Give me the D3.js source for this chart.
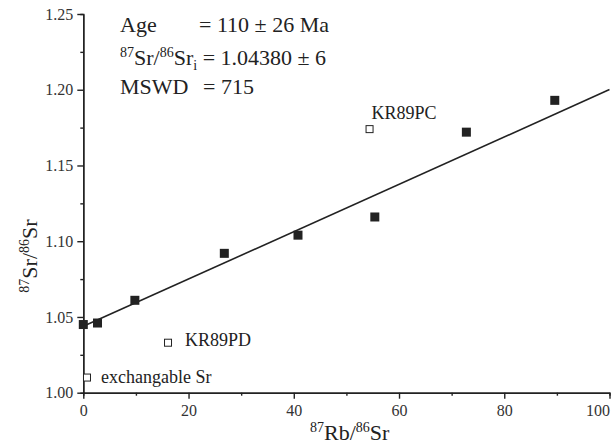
<!DOCTYPE html>
<html>
<head>
<meta charset="utf-8">
<script src="https://cdn.jsdelivr.net/npm/d3@7"></script>
<style>
  body { margin: 0; background: #fff; }
  svg { display: block; }
  .axis path, .axis line { stroke: #222; stroke-width: 1.4; }
</style>
</head>
<body>
<div id="chart"></div>
<script>
// filled squares: samples on the isochron
const rbSr = [0, 2.7, 9.8, 26.8, 40.8, 55.4, 72.8, 89.6];
const srSr = [1.045, 1.046, 1.061, 1.092, 1.104, 1.116, 1.172, 1.193];

// open squares: excluded samples
const openLabels = ["exchangable Sr", "KR89PD", "KR89PC"];
const openRbSr = [0.7, 16.1, 54.4];
const openSrSr = [1.010, 1.033, 1.174];

// isochron fit
const fitIntercept = 1.0438;
const fitSlope = 0.001563;
const fitRange = [0, 100];

const xTicks = [0, 20, 40, 60, 80, 100];
const xMinor = [10, 30, 50, 70, 90];
const yTicks = [1.00, 1.05, 1.10, 1.15, 1.20, 1.25];
const yMinor = [1.025, 1.075, 1.125, 1.175, 1.225];

const width = 611, height = 446;
const ink = "#222";
const serif = "'Liberation Serif', 'Times New Roman', serif";

const x = d3.scaleLinear().domain([0, 100]).range([83.3, 609.5]);
const y = d3.scaleLinear().domain([1.0, 1.25]).range([392.7, 14]);

const svg = d3.select("#chart").append("svg")
  .attr("width", width)
  .attr("height", height)
  .attr("font-family", serif);

// axes
svg.append("g")
  .attr("class", "axis")
  .attr("transform", `translate(0,${y(1.0)})`)
  .call(d3.axisBottom(x).tickValues(xMinor).tickSize(3).tickFormat(""));

const xAxis = svg.append("g")
  .attr("class", "axis")
  .attr("transform", `translate(0,${y(1.0)})`)
  .call(d3.axisBottom(x).tickValues(xTicks).tickSize(6).tickSizeOuter(0).tickPadding(6).tickFormat(d3.format("d")));
xAxis.selectAll(".tick text")
  .attr("text-anchor", (d) => (d === 100 ? "end" : "middle"));

svg.append("g")
  .attr("class", "axis")
  .attr("transform", `translate(${x(0)},0)`)
  .call(d3.axisLeft(y).tickValues(yMinor).tickSize(3).tickFormat(""));

svg.append("g")
  .attr("class", "axis")
  .attr("transform", `translate(${x(0)},0)`)
  .call(d3.axisLeft(y).tickValues(yTicks).tickSize(6).tickSizeOuter(0).tickPadding(4).tickFormat(d3.format(".2f")));

svg.selectAll(".axis")
  .attr("font-family", serif)
  .attr("font-size", 16);
svg.selectAll(".axis text").attr("fill", "#333");
svg.selectAll(".axis .domain").attr("stroke", ink);

// isochron line
svg.append("line")
  .attr("x1", x(fitRange[0]))
  .attr("y1", y(fitIntercept + fitSlope * fitRange[0]))
  .attr("x2", x(fitRange[1]))
  .attr("y2", y(fitIntercept + fitSlope * fitRange[1]))
  .attr("stroke", ink)
  .attr("stroke-width", 1.6);

// filled squares
const sq = 9;
svg.append("g")
  .selectAll("rect")
  .data(rbSr).enter()
  .append("rect")
    .attr("x", (d) => x(d) - sq / 2)
    .attr("y", (d, i) => y(srSr[i]) - sq / 2)
    .attr("width", sq)
    .attr("height", sq)
    .attr("fill", ink);

// open squares + labels
const osq = 7;
const labelOffset = [[14, 5], [17, 3], [2, -10]];
const open = svg.append("g")
  .selectAll("g")
  .data(openLabels).enter()
  .append("g")
    .attr("transform", (d, i) => `translate(${x(openRbSr[i])},${y(openSrSr[i])})`);

open.append("rect")
  .attr("x", -osq / 2)
  .attr("y", -osq / 2)
  .attr("width", osq)
  .attr("height", osq)
  .attr("fill", "#fff")
  .attr("stroke", ink)
  .attr("stroke-width", 1);

open.append("text")
  .attr("x", (d, i) => labelOffset[i][0])
  .attr("y", (d, i) => labelOffset[i][1])
  .attr("font-size", 18)
  .attr("fill", ink)
  .text((d) => d);

// result block
const info = svg.append("g").attr("fill", ink).attr("font-size", 22);

const l1 = info.append("text").attr("y", 32);
l1.append("tspan").attr("x", 120).text("Age");
l1.append("tspan").attr("x", 199).text("=  110 ± 26  Ma");

const l2 = info.append("text").attr("y", 65);
l2.append("tspan").attr("x", 120).attr("dy", -8).attr("font-size", 14).text("87");
l2.append("tspan").attr("dy", 8).text("Sr/");
l2.append("tspan").attr("dy", -8).attr("font-size", 14).text("86");
l2.append("tspan").attr("dy", 8).text("Sr");
l2.append("tspan").attr("dy", 5).attr("font-size", 14).text("i");
l2.append("tspan").attr("dy", -5).text(" = 1.04380 ± 6");

const l3 = info.append("text").attr("y", 94);
l3.append("tspan").attr("x", 120).text("MSWD");
l3.append("tspan").attr("x", 203).text("= 715");

// x axis title
const xt = svg.append("text")
  .attr("x", 310)
  .attr("y", 440)
  .attr("font-size", 22)
  .attr("fill", ink);
xt.append("tspan").attr("dy", -8).attr("font-size", 14).text("87");
xt.append("tspan").attr("dy", 8).text("Rb/");
xt.append("tspan").attr("dy", -8).attr("font-size", 14).text("86");
xt.append("tspan").attr("dy", 8).text("Sr");

// y axis title
const yt = svg.append("text")
  .attr("transform", "translate(37,256)rotate(-90)")
  .attr("text-anchor", "middle")
  .attr("font-size", 22)
  .attr("fill", ink);
yt.append("tspan").attr("dy", -8).attr("font-size", 14).text("87");
yt.append("tspan").attr("dy", 8).text("Sr/");
yt.append("tspan").attr("dy", -8).attr("font-size", 14).text("86");
yt.append("tspan").attr("dy", 8).text("Sr");
</script>
</body>
</html>
